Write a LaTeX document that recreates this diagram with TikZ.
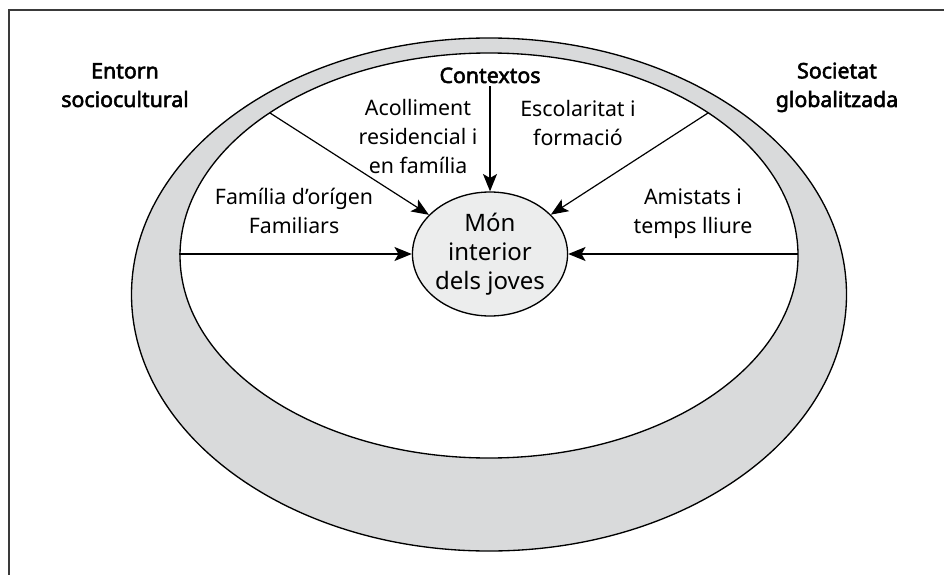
\documentclass[tikz,border=0pt]{standalone}
\usepackage{fontspec}
\setmainfont{Noto Sans}[AutoFakeBold=2.5]
\usetikzlibrary{shapes.geometric,arrows.meta}
\definecolor{ringgray}{HTML}{D9DADB}
\definecolor{coregray}{HTML}{ECEDED}
\definecolor{framegray}{HTML}{3A3A3A}
\tikzset{
  lbl/.style={anchor=base, align=center, inner sep=2pt, font=\fontsize{16}{21.5}\selectfont},
  boldlbl/.style={anchor=base, align=center, inner sep=2pt, font=\fontsize{16}{21.5}\selectfont\bfseries},
  arr/.style={line width=0.9pt, -{Stealth[length=13pt,width=10.5pt,inset=3pt]}},
  ring/.style={line width=1pt},
}
\begin{document}
\begin{tikzpicture}[x=0.75pt,y=-0.75pt]
\useasboundingbox (0,0) rectangle (944,574);
% frame
\draw[framegray, line width=1.5pt] (946,10) -- (9,10) -- (9,576);
% ring
\fill[ringgray, even odd rule] (489,294.5) ellipse [x radius=357.5, y radius=256.5]
                               (489,255.5) ellipse [x radius=309, y radius=202.5];
\draw[ring] (489,294.5) ellipse [x radius=357.5, y radius=256.5];
\draw[ring] (489,255.5) ellipse [x radius=309, y radius=202.5];
% centre
\node[ellipse, draw, line width=1pt, fill=coregray, minimum width=146*0.75pt, minimum height=124*0.75pt,
      inner sep=0pt, align=center, font=\fontsize{18}{21.75}\selectfont] (mon) at (490,254)
      {Món\\interior\\dels joves};
% labels (base anchor = baseline of the last line)
\node[boldlbl] (ent) at (125,107) {Entorn\\sociocultural};
\node[boldlbl] (soc) at (837,107) {Societat\\globalitzada};
\node[boldlbl] (ctx) at (490,83) {Contextos};
\node[lbl] (aco) at (418,173) {Acolliment\\residencial i\\en família};
\node[lbl] (esc) at (578,145) {Escolaritat i\\formació};
\node[lbl] (fam) at (294,233) {Família d’orígen\\Familiars};
\node[lbl] (ami) at (693,233) {Amistats i\\temps lliure};
% spoke ends on the inner ellipse
\coordinate (pL) at (179,254);
\coordinate (pR) at (798,254);
\coordinate (pUL) at (270,113);
\coordinate (pUR) at (708,113);
% connectors
\draw[arr] (pL) -- (mon);
\draw[arr] (pR) -- (mon);
\draw[arr] (pUL) -- (mon);
\draw[arr] (pUR) -- (mon);
\draw[arr] (ctx.south) -- (mon);
\end{tikzpicture}
\end{document}
